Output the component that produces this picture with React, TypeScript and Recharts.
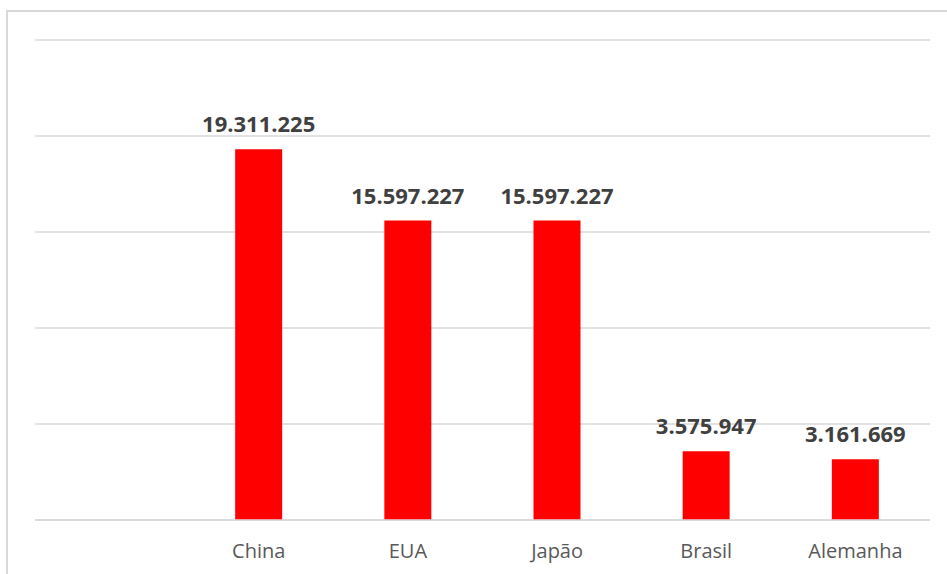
import React from 'react';
import { BarChart, Bar, XAxis, YAxis, CartesianGrid, LabelList } from 'recharts';

// first slot is empty in the original chart
const countries = ['', 'China', 'EUA', 'Japão', 'Brasil', 'Alemanha'];
const values: (number | null)[] = [null, 19311225, 15597227, 15597227, 3575947, 3161669];
const yTicks = [0, 5000000, 10000000, 15000000, 20000000, 25000000];

const data = countries.map((name, i) => ({ name, value: values[i] }));

const fmt = (v: any) => (v == null ? '' : Number(v).toLocaleString('de-DE'));

const App: React.FC = () => {
    return (
        <div style={{ position: 'absolute', left: 0, top: 0, width: 947, height: 574, overflow: 'hidden', background: '#fff' }}>
            <div
                style={{
                    position: 'absolute',
                    left: 6,
                    top: 10,
                    width: 1000,
                    height: 700,
                    border: '2px solid #d9d9d9',
                    boxSizing: 'border-box',
                }}
            />
            <div style={{ position: 'absolute', left: 0, top: 0 }}>
                <BarChart
                    width={947}
                    height={574}
                    data={data}
                    margin={{ top: 40, right: 17, left: 35, bottom: 24 }}
                    barCategoryGap="34%"
                >
                    <CartesianGrid vertical={false} stroke="#d9d9d9" strokeWidth={1.5} />
                    <YAxis hide domain={[0, 25000000]} ticks={yTicks} />
                    <XAxis
                        dataKey="name"
                        height={30}
                        axisLine={{ stroke: '#d9d9d9', strokeWidth: 1.5 }}
                        tickLine={false}
                        tickMargin={18}
                        interval={0}
                        tick={{ fill: '#595959', fontSize: 20, fontFamily: '"Open Sans", sans-serif' }}
                    />
                    <Bar dataKey="value" fill="#ff0000" barSize={47} isAnimationActive={false}>
                        <LabelList
                            dataKey="value"
                            position="top"
                            offset={17}
                            formatter={fmt}
                            style={{ fill: '#404040', fontSize: 22, fontWeight: 700, fontFamily: '"Open Sans", sans-serif' }}
                        />
                    </Bar>
                </BarChart>
            </div>
        </div>
    );
};

export default App;
